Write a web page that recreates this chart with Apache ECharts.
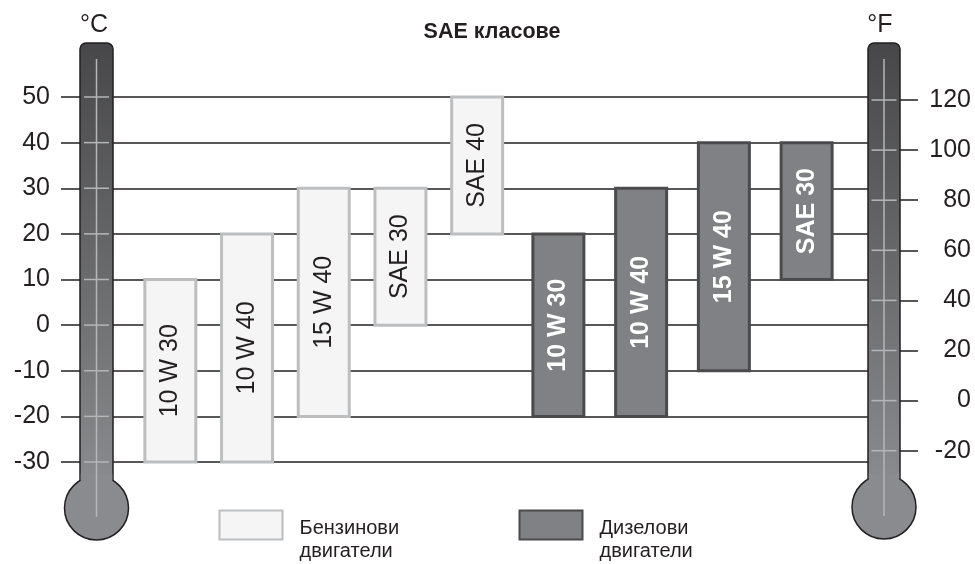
<!DOCTYPE html>
<html>
<head>
<meta charset="utf-8">
<script src="https://cdn.jsdelivr.net/npm/echarts@6/dist/echarts.min.js"></script>
<style>
  html, body { margin: 0; padding: 0; background: #fff; }
  #chart { width: 975px; height: 564px; }
</style>
</head>
<body>
<div id="chart"></div>
<script>
const celsiusTicks = [-30, -20, -10, 0, 10, 20, 30, 40, 50];
const fahrenheitTicks = [-20, 0, 20, 40, 60, 80, 100, 120];

const petrolGrades = ['10 W 30', '10 W 40', '15 W 40', 'SAE 30', 'SAE 40'];
const petrolMin = [-30, -30, -20, 0, 20];
const petrolMax = [10, 20, 30, 30, 50];

const dieselGrades = ['10 W 30', '10 W 40', '15 W 40', 'SAE 30'];
const dieselMin = [-20, -20, -10, 10];
const dieselMax = [20, 30, 40, 40];

const FONT = '"Liberation Sans", Arial, sans-serif';
const INK = '#231f20';

const chart = echarts.init(document.getElementById('chart'));

// range boxes with vertical text
function rangeRenderer(names, fill, stroke, textColor, weight) {
  return function (params, api) {
    const top = api.coord([api.value(0), api.value(2)]);
    const bottom = api.coord([api.value(0), api.value(1)]);
    const w = 51;
    return {
      type: 'group',
      children: [
        {
          type: 'rect',
          shape: { x: top[0] - w / 2, y: top[1], width: w, height: bottom[1] - top[1] },
          style: { fill: fill, stroke: stroke, lineWidth: 3 }
        },
        {
          type: 'text',
          x: top[0],
          y: (top[1] + bottom[1]) / 2,
          rotation: Math.PI / 2,
          style: {
            text: names[params.dataIndex],
            align: 'center',
            verticalAlign: 'middle',
            fontSize: 25,
            fontWeight: weight,
            fontFamily: FONT,
            fill: textColor
          }
        }
      ]
    };
  };
}

const petrolData = petrolGrades.map((g, i) => [i, petrolMin[i], petrolMax[i]]);
const dieselData = dieselGrades.map((g, i) => [i, dieselMin[i], dieselMax[i]]);

const legendBase = {
  orient: 'horizontal',
  padding: 0,
  top: 497,
  icon: 'rect',
  itemWidth: 63,
  itemHeight: 29,
  selectedMode: false,
  formatter: n => '{s| }\n{t|' + n.replace(' ', '}\n{t|') + '}',
  textStyle: {
    color: INK, fontFamily: FONT, padding: [0, 0, 0, 12],
    rich: {
      s: { fontSize: 10, lineHeight: 29 },
      t: { fontSize: 20, lineHeight: 23, color: INK, fontFamily: FONT }
    }
  }
};

const noBounds = { outerBoundsMode: 'none', containLabel: false };

const option = {
  animation: false,
  backgroundColor: '#fff',
  title: {
    text: 'SAE класове',
    left: 487,
    top: 16,
    textAlign: 'center',
    textStyle: { fontSize: 21.5, fontWeight: 'bold', color: INK, fontFamily: FONT }
  },
  legend: [
    Object.assign({}, legendBase, { left: 218.5, data: ['Бензинови двигатели'] }),
    Object.assign({}, legendBase, { left: 518.5, data: ['Дизелови двигатели'] })
  ],
  grid: [
    Object.assign({ left: 61, right: 91, top: 97, bottom: 102 }, noBounds),
    Object.assign({ left: 900, right: 20, top: 100, bottom: 113.3 }, noBounds),
    Object.assign({ left: 132, width: 383.5, top: 97, bottom: 102 }, noBounds),
    Object.assign({ left: 517, width: 331, top: 97, bottom: 102 }, noBounds)
  ],
  xAxis: [
    { gridIndex: 0, type: 'value', show: false },
    { gridIndex: 1, type: 'value', show: false },
    { gridIndex: 2, type: 'category', data: petrolGrades, show: false },
    { gridIndex: 3, type: 'category', data: dieselGrades, show: false }
  ],
  yAxis: [
    {
      gridIndex: 0, type: 'value',
      min: celsiusTicks[0], max: celsiusTicks[celsiusTicks.length - 1], interval: 10,
      axisLine: { show: false },
      axisTick: { show: false },
      splitLine: { show: true, lineStyle: { color: INK, width: 1.5 } },
      axisLabel: { fontSize: 25, color: INK, margin: 11, fontFamily: FONT }
    },
    {
      gridIndex: 1, type: 'value', position: 'left',
      min: fahrenheitTicks[0], max: fahrenheitTicks[fahrenheitTicks.length - 1], interval: 20,
      axisLine: { show: false },
      axisTick: { show: true, inside: true, length: 18, lineStyle: { color: INK, width: 1.5 } },
      splitLine: { show: false },
      axisLabel: { inside: true, fontSize: 25, color: INK, margin: 71, align: 'right', fontFamily: FONT }
    },
    { gridIndex: 2, type: 'value', min: -30, max: 50, show: false, splitLine: { show: false } },
    { gridIndex: 3, type: 'value', min: -30, max: 50, show: false, splitLine: { show: false } }
  ],
  series: [
    {
      name: 'Бензинови двигатели',
      type: 'custom',
      xAxisIndex: 2, yAxisIndex: 2,
      itemStyle: { color: '#f5f5f5', borderColor: '#bcbec0', borderWidth: 3 },
      renderItem: rangeRenderer(petrolGrades, '#f5f5f5', '#bcbec0', INK, 'normal'),
      data: petrolData,
      z: 3
    },
    {
      name: 'Дизелови двигатели',
      type: 'custom',
      xAxisIndex: 3, yAxisIndex: 3,
      itemStyle: { color: '#808184', borderColor: '#4b4b4d', borderWidth: 3 },
      renderItem: rangeRenderer(dieselGrades, '#808184', '#4b4b4d', '#fff', 'bold'),
      data: dieselData,
      z: 3
    }
  ]
};

chart.setOption(option);

const BULB = '#8a8b8e';

// thermometers drawn over the scale, ticks placed from the axes
function thermometer(cx, tubeW, bulbCy, tickYs) {
  const half = tubeW / 2;
  const r = 32;
  const joinY = bulbCy - Math.sqrt(r * r - half * half);
  const l = cx - half, t = 43;
  const els = [
    {
      type: 'rect',
      shape: { x: l, y: t, width: tubeW, height: joinY + 4 - t, r: [6, 6, 0, 0] },
      style: {
        fill: {
          type: 'linear', x: 0, y: 0, x2: 0, y2: 1,
          colorStops: [
            { offset: 0, color: '#474749' },
            { offset: 1, color: BULB }
          ]
        },
        stroke: INK, lineWidth: 1.5
      },
      z: 10
    },
    {
      type: 'circle',
      shape: { cx: cx, cy: bulbCy, r: r },
      style: { fill: BULB, stroke: INK, lineWidth: 1.5 },
      z: 10
    },
    {
      type: 'rect',
      shape: { x: l + 0.75, y: bulbCy - r - 2, width: tubeW - 1.5, height: joinY - (bulbCy - r) + 6 },
      style: { fill: BULB },
      z: 10
    },
    {
      type: 'line',
      shape: { x1: cx, y1: 59, x2: cx, y2: bulbCy + 9 },
      style: { stroke: '#b5b6b8', lineWidth: 1.5 },
      z: 11
    }
  ];
  tickYs.forEach(y => {
    els.push({
      type: 'line',
      shape: { x1: cx - 12.5, y1: y, x2: cx + 12.5, y2: y },
      style: { stroke: '#b5b6b8', lineWidth: 1.5 },
      z: 11
    });
  });
  return els;
}

const cYs = celsiusTicks.map(v => chart.convertToPixel({ yAxisIndex: 0 }, v));
const fYs = fahrenheitTicks.map(v => chart.convertToPixel({ yAxisIndex: 1 }, v));

chart.setOption({
  graphic: [].concat(
    thermometer(96.5, 33, 508, cYs),
    thermometer(884, 32, 507, fYs),
    [
      { type: 'text', x: 94, y: 25, z: 12, style: { text: '°C', fontSize: 25, fill: INK, fontFamily: FONT, align: 'center', verticalAlign: 'middle' } },
      { type: 'text', x: 880, y: 25, z: 12, style: { text: '°F', fontSize: 25, fill: INK, fontFamily: FONT, align: 'center', verticalAlign: 'middle' } }
    ]
  )
});
</script>
</body>
</html>
